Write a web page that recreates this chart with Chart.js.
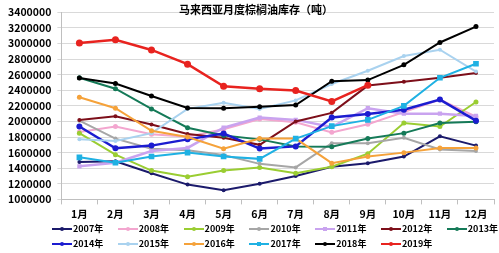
<!DOCTYPE html>
<html>
<head>
<meta charset="utf-8">
<script src="https://cdn.jsdelivr.net/npm/chart.js@4.4.0/dist/chart.umd.min.js"></script>
<style>
  html, body { margin:0; padding:0; background:#fff; }
  #wrap { position:relative; width:499px; height:253px; overflow:hidden; font-family:"Noto Sans CJK SC","Noto Sans",sans-serif; }
  #cbox { position:absolute; left:0; top:0; width:499px; height:225px; }
  #title { position:absolute; top:1px; left:0; width:512px; text-align:center; font-weight:bold; font-size:11px; line-height:16px; color:#000; }
  .row { position:absolute; left:52px; height:14px; }
  .item { position:absolute; top:0; height:14px; white-space:nowrap; font-weight:bold; font-size:9px; line-height:14px; color:#000; }
  .ln { position:absolute; left:0; top:6px; width:20px; height:2px; }
  .mk { position:absolute; left:8px; top:5px; width:4px; height:4px; border-radius:2px; }
  .tx { position:absolute; left:21px; top:0; }
</style>
</head>
<body>
<div id="wrap">
  <div id="cbox"><canvas id="c"></canvas></div>
  <div id="title">马来西亚月度棕榈油库存（吨）</div>
  <div class="row" id="row1" style="top:222px;"></div>
  <div class="row" id="row2" style="top:237px;"></div>
</div>
<script>
const months = ['1月','2月','3月','4月','5月','6月','7月','8月','9月','10月','11月','12月'];
const yTicksMin = 1000000;
const yTicksMax = 3400000;
const yTickStep = 200000;

const y2007 = [1480000,1490000,1335000,1190000,1117000,1200000,1300000,1420000,1465000,1550000,1810000,1690000];
const y2008 = [1865000,1935000,1835000,1805000,1900000,2030000,1990000,1860000,1965000,2120000,2280000,2060000];
const y2009 = [1850000,1574000,1370000,1290000,1370000,1410000,1335000,1420000,1587000,1980000,1935000,2250000];
const y2010 = [2010000,1780000,1650000,1630000,1570000,1456000,1410000,1720000,1720000,1790000,1640000,1620000];
const y2011 = [1425000,1470000,1620000,1660000,1920000,2050000,2020000,1930000,2170000,2100000,2100000,2070000];
const y2012 = [2020000,2066000,1960000,1840000,1790000,1700000,2000000,2110000,2460000,2510000,2560000,2620000];
const y2013 = [2560000,2420000,2160000,1920000,1820000,1770000,1680000,1675000,1780000,1850000,1980000,1995000];
const y2014 = [1935000,1656000,1690000,1770000,1844000,1652000,1680000,2050000,2095000,2150000,2280000,2010000];
const y2015 = [1770000,1750000,1850000,2160000,2240000,2160000,2270000,2480000,2650000,2840000,2920000,2640000];
const y2016 = [2310000,2170000,1880000,1800000,1650000,1780000,1780000,1465000,1550000,1600000,1660000,1660000];
const y2017 = [1540000,1470000,1550000,1600000,1550000,1520000,1780000,1940000,2020000,2200000,2560000,2740000];
const y2018 = [2556000,2487000,2326000,2174000,2170000,2187000,2210000,2517000,2530000,2726000,3013000,3217000];
const y2019 = [3005000,3048000,2917000,2735000,2452000,2420000,2396000,2256000,2465000,null,null,null];

const seriesNames = ['2007年','2008年','2009年','2010年','2011年','2012年','2013年','2014年','2015年','2016年','2017年','2018年','2019年'];
const seriesData = [y2007,y2008,y2009,y2010,y2011,y2012,y2013,y2014,y2015,y2016,y2017,y2018,y2019];
const seriesColors = ['#1b1a6b','#f3a6cf','#9acd32','#a6a6a6','#c9a3ef','#7d0f1a','#157a58','#1c1cd0','#a9d2ef','#f5a23a','#1fb1e3','#000000','#e8231f'];
const pointStyles = ['circle','circle','circle','circle','rect','circle','circle','circle','circle','circle','rect','circle','circle'];
const pointRadii = [2,2.5,2.5,2,3,2,2.5,3,2,2.5,4,2.5,3.5];
const lineWidths = [2,2,2,2,2.5,2,2,2.5,2,2,2,2,2.5];

const datasets = seriesNames.map((n,i)=>({
  label:n,
  data:seriesData[i],
  borderColor:seriesColors[i],
  backgroundColor:seriesColors[i],
  pointBackgroundColor:seriesColors[i],
  pointBorderColor:seriesColors[i],
  pointStyle:pointStyles[i],
  pointRadius:pointRadii[i],
  pointBorderWidth:0,
  borderWidth:lineWidths[i],
  tension:0,
  spanGaps:false,
  order: seriesNames.length - i
}));

const tickFont = {family:'"Noto Sans CJK SC","Noto Sans",sans-serif', size:10.5, weight:'bold'};

new Chart(document.getElementById('c'), {
  type:'line',
  data:{labels:months, datasets},
  options:{
    responsive:true,
    maintainAspectRatio:false,
    animation:false,
    layout:{padding:{left:2,right:5,top:8,bottom:2}},
    plugins:{legend:{display:false}, title:{display:false}, tooltip:{enabled:false}},
    scales:{
      x:{
        offset:true,
        grid:{offset:true, drawOnChartArea:false, drawTicks:true, tickLength:5, color:'#bfbfbf'},
        border:{color:'#bfbfbf', width:1},
        ticks:{font:tickFont, color:'#000', padding:3, maxRotation:0, autoSkip:false}
      },
      y:{
        min:yTicksMin, max:yTicksMax,
        grid:{color:'#d9d9d9', tickLength:4, drawTicks:true},
        border:{color:'#bfbfbf', width:1},
        ticks:{stepSize:yTickStep, autoSkip:false, font:tickFont, color:'#000', padding:6, callback:v=>String(v)}
      }
    }
  }
});

// HTML legend
seriesNames.forEach((n,i)=>{
  const row = document.getElementById(i<7?'row1':'row2');
  const col = i<7 ? i : i-7;
  const it = document.createElement('div');
  it.className='item';
  it.style.left = (col*65.8)+'px';
  const ln = document.createElement('div'); ln.className='ln'; ln.style.background=seriesColors[i];
  const mk = document.createElement('div'); mk.className='mk'; mk.style.background=seriesColors[i];
  if (pointStyles[i]==='rect'){ mk.style.borderRadius='0'; }
  const tx = document.createElement('span'); tx.className='tx'; tx.textContent=n;
  it.appendChild(ln); it.appendChild(mk); it.appendChild(tx);
  row.appendChild(it);
});
</script>
</body>
</html>
